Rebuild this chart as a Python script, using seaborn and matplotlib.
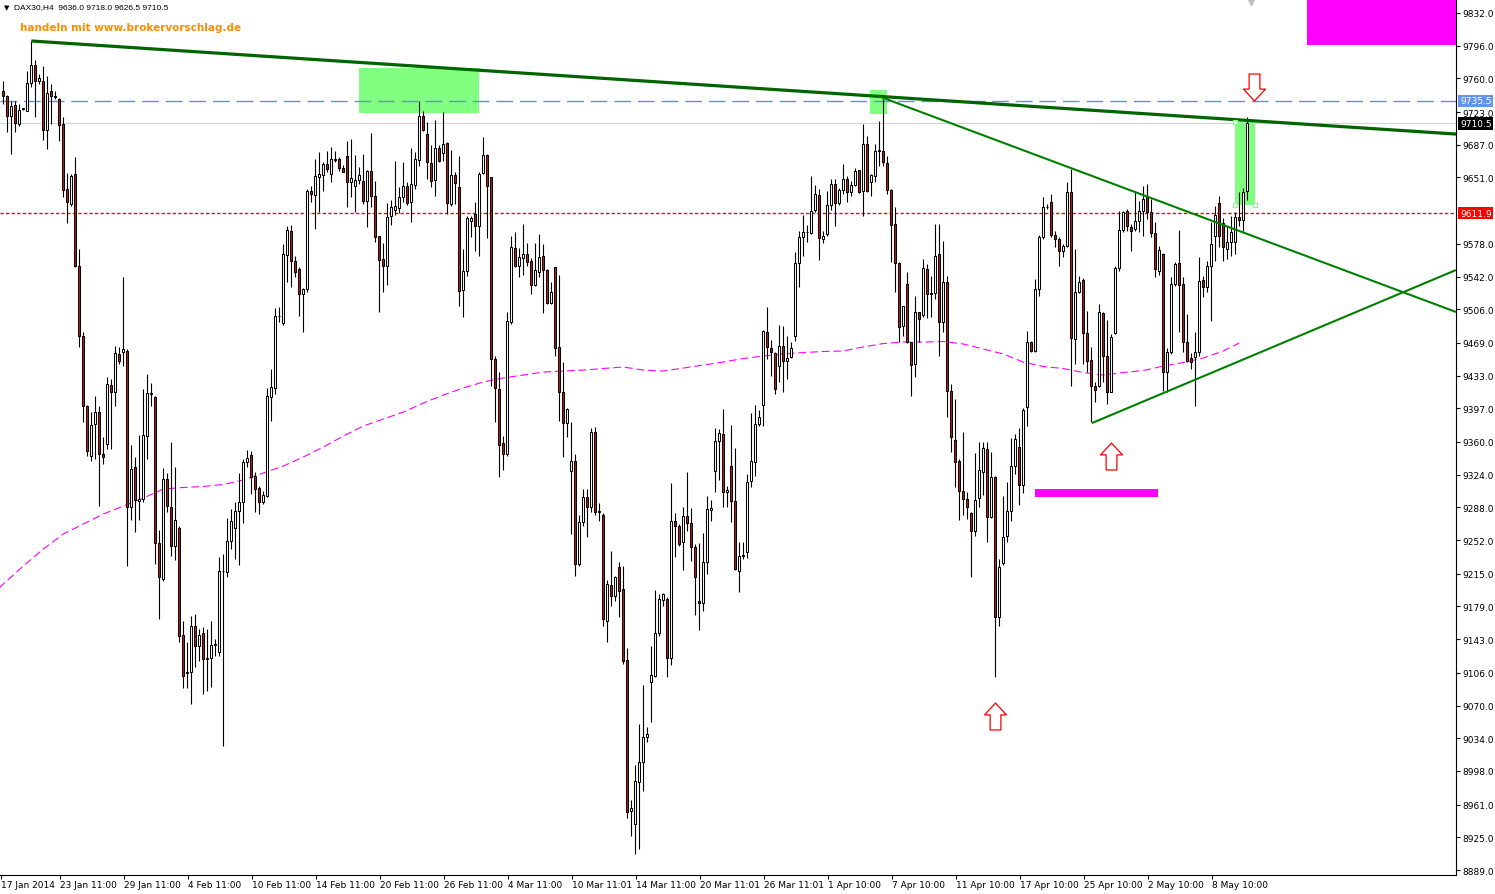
import numpy as np
import pandas as pd
import matplotlib.pyplot as plt
import seaborn as sns
from matplotlib.patches import Rectangle
from matplotlib.path import Path
import matplotlib.transforms as mtransforms

# DAX30 H4 Kerzen, Index = Kerze
opens = [
    9746.5, 9740.3, 9718.3, 9730.8, 9709.9, 9726.0, 9724.5, 9755.0, 9774.8, 9756.8,
    9757.2, 9703.6, 9746.5, 9740.3, 9737.4, 9709.9, 9638.3, 9621.8, 9654.8, 9553.9,
    9476.9, 9399.9, 9344.2, 9379.7, 9392.6, 9346.7, 9357.7, 9422.6, 9414.6, 9456.8,
    9458.6, 9460.4, 9288.1, 9332.1, 9294.6, 9297.1, 9366.9, 9413.5, 9409.1, 9248.4,
    9209.2, 9319.2, 9288.1, 9245.8, 9265.0, 9147.6, 9106.0, 9106.5, 9157.1, 9135.8,
    9149.8, 9121.1, 9121.9, 9136.6, 9128.5, 9218.3, 9216.5, 9251.3, 9265.0, 9284.3,
    9294.2, 9337.6, 9345.6, 9322.2, 9309.0, 9293.6, 9300.2, 9409.1, 9419.0, 9498.2,
    9490.5, 9566.0, 9591.8, 9559.4, 9550.8, 9522.8, 9528.3, 9635.8, 9632.0, 9651.2,
    9654.1, 9665.8, 9654.8, 9671.3, 9671.3, 9661.5, 9674.3, 9645.7, 9641.3, 9648.6,
    9647.1, 9625.5, 9657.8, 9630.3, 9586.3, 9561.3, 9553.3, 9608.3, 9615.6, 9617.1,
    9629.2, 9641.3, 9624.4, 9642.7, 9670.6, 9718.3, 9698.5, 9666.6, 9648.6, 9683.1,
    9677.6, 9688.6, 9621.5, 9653.7, 9640.2, 9527.5, 9548.1, 9603.4, 9610.8, 9597.3,
    9655.9, 9676.1, 9651.2, 9451.3, 9418.2, 9358.5, 9346.7, 9491.6, 9573.1, 9553.9,
    9562.1, 9566.8, 9558.8, 9533.0, 9546.7, 9564.3, 9549.2, 9512.9, 9552.2, 9464.5,
    9414.6, 9380.5, 9328.3, 9339.4, 9225.7, 9272.2, 9299.7, 9288.1, 9370.6, 9282.6,
    9279.6, 9163.3, 9202.6, 9190.1, 9222.0, 9198.2, 9120.1, 8953.7, 8939.2, 8985.9,
    9008.1, 9035.0, 9095.5, 9102.8, 9149.8, 9186.4, 9187.2, 9121.9, 9272.7, 9267.8,
    9250.2, 9278.2, 9270.8, 9244.1, 9185.3, 9182.8, 9228.2, 9285.1, 9327.7, 9360.7,
    9368.7, 9304.6, 9333.2, 9295.3, 9218.3, 9234.8, 9239.2, 9317.3, 9338.3, 9379.7,
    9400.6, 9480.6, 9463.0, 9457.9, 9443.2, 9465.9, 9449.0, 9453.1, 9476.2, 9556.5,
    9585.2, 9591.0, 9589.9, 9615.6, 9631.7, 9583.3, 9588.5, 9620.7, 9643.5, 9622.6,
    9637.6, 9649.3, 9635.4, 9642.7, 9659.2, 9636.5, 9687.8, 9646.4, 9652.3, 9680.5,
    9680.5, 9666.9, 9637.2, 9599.8, 9556.9, 9487.2, 9533.8, 9469.6, 9445.7, 9502.6,
    9499.7, 9550.3, 9523.9, 9523.9, 9566.8, 9491.6, 9535.7, 9416.4, 9362.4, 9339.4,
    9306.3, 9297.2, 9281.8, 9262.3, 9298.0, 9327.2, 9352.2, 9277.1, 9321.1, 9167.0,
    9226.8, 9256.2, 9284.3, 9333.8, 9354.1, 9312.6, 9398.1, 9470.3, 9460.4, 9528.3,
    9585.2, 9618.2, 9623.7, 9587.7, 9583.3, 9570.4, 9575.3, 9635.4, 9473.3, 9525.3,
    9538.5, 9479.9, 9450.5, 9421.9, 9421.9, 9501.5, 9454.2, 9415.3, 9479.5, 9551.1,
    9593.2, 9613.8, 9596.2, 9594.3, 9603.4, 9614.5, 9630.3, 9613.4, 9589.9, 9548.4,
    9566.8, 9437.3, 9458.6, 9533.8, 9556.9, 9533.8, 9469.6, 9452.0, 9453.1, 9459.3,
    9538.5, 9530.2, 9553.3, 9587.0, 9622.9, 9600.9, 9572.3, 9580.3, 9580.3, 9607.2,
    9604.5, 9636.0]
highs = [
    9757.5, 9742.0, 9735.5, 9735.5, 9731.9, 9728.0, 9768.5, 9801.5, 9780.6, 9764.9,
    9773.3, 9762.3, 9753.9, 9746.0, 9738.0, 9717.2, 9655.9, 9654.8, 9673.2, 9572.3,
    9481.0, 9401.0, 9392.9, 9410.9, 9399.9, 9365.4, 9431.5, 9429.3, 9465.9, 9464.5,
    9541.5, 9462.3, 9356.6, 9343.1, 9367.6, 9418.2, 9434.8, 9424.8, 9411.0, 9263.4,
    9331.3, 9325.8, 9360.3, 9332.1, 9267.0, 9163.3, 9140.2, 9168.1, 9170.7, 9154.2,
    9156.0, 9154.2, 9163.3, 9143.0, 9233.0, 9236.7, 9275.9, 9286.2, 9294.2, 9325.8,
    9341.2, 9351.1, 9350.4, 9326.6, 9311.8, 9306.3, 9419.0, 9440.3, 9507.0, 9508.5,
    9577.8, 9597.9, 9598.7, 9564.9, 9552.0, 9529.0, 9638.3, 9642.0, 9671.3, 9678.7,
    9667.7, 9679.8, 9684.2, 9679.8, 9673.5, 9664.8, 9691.5, 9693.3, 9675.7, 9662.2,
    9676.8, 9659.0, 9700.0, 9647.5, 9587.0, 9578.9, 9622.9, 9626.6, 9669.5, 9640.2,
    9667.7, 9645.7, 9683.1, 9678.7, 9735.5, 9724.5, 9711.7, 9686.7, 9714.6, 9686.7,
    9722.7, 9689.7, 9681.6, 9656.7, 9674.3, 9572.3, 9609.0, 9609.0, 9624.4, 9656.7,
    9695.2, 9677.0, 9652.0, 9454.2, 9436.6, 9366.9, 9502.6, 9586.3, 9591.3, 9573.1,
    9599.8, 9578.9, 9562.1, 9578.9, 9588.8, 9577.8, 9550.3, 9535.7, 9553.0, 9543.7,
    9447.6, 9397.0, 9381.6, 9346.7, 9279.6, 9308.2, 9308.2, 9375.0, 9376.1, 9292.8,
    9281.5, 9208.4, 9240.3, 9212.8, 9227.5, 9223.8, 9132.9, 8966.3, 9004.5, 9049.6,
    9092.5, 9046.0, 9135.8, 9197.4, 9192.7, 9193.8, 9189.0, 9314.8, 9281.8, 9269.7,
    9288.0, 9326.6, 9287.0, 9247.7, 9248.8, 9259.8, 9300.8, 9296.4, 9375.0, 9374.2,
    9396.2, 9311.2, 9378.6, 9353.0, 9250.2, 9250.0, 9324.7, 9391.8, 9400.6, 9395.5,
    9483.5, 9508.1, 9472.5, 9459.3, 9488.7, 9487.2, 9476.2, 9470.3, 9568.7, 9592.4,
    9609.7, 9598.7, 9652.3, 9642.7, 9638.3, 9592.4, 9636.5, 9649.3, 9649.3, 9639.1,
    9665.8, 9653.0, 9647.5, 9661.1, 9659.6, 9709.9, 9696.3, 9654.8, 9687.8, 9713.5,
    9737.4, 9674.3, 9638.0, 9618.8, 9557.5, 9510.0, 9547.3, 9470.0, 9520.2, 9503.3,
    9561.3, 9555.8, 9542.9, 9599.8, 9599.8, 9581.4, 9542.9, 9423.7, 9407.2, 9341.2,
    9370.6, 9305.2, 9283.0, 9347.8, 9360.3, 9360.3, 9360.3, 9348.6, 9322.5, 9231.2,
    9300.2, 9315.6, 9364.0, 9368.7, 9375.0, 9396.9, 9482.4, 9471.4, 9539.3, 9587.7,
    9629.2, 9621.8, 9632.8, 9592.4, 9585.2, 9577.8, 9645.7, 9660.3, 9572.3, 9542.9,
    9540.0, 9504.4, 9464.1, 9425.6, 9511.8, 9503.3, 9494.5, 9478.8, 9553.9, 9614.5,
    9614.5, 9616.3, 9599.8, 9634.7, 9625.5, 9641.3, 9643.8, 9627.3, 9601.7, 9575.3,
    9568.0, 9463.0, 9541.2, 9558.3, 9593.5, 9541.2, 9500.8, 9457.9, 9481.3, 9563.2,
    9542.9, 9559.4, 9601.7, 9620.0, 9630.3, 9606.1, 9597.9, 9608.3, 9613.4, 9635.4,
    9639.1, 9718.0]
lows = [
    9731.9, 9701.4, 9676.8, 9701.0, 9708.0, 9725.0, 9724.0, 9750.2, 9717.9, 9753.9,
    9692.6, 9682.3, 9709.9, 9737.4, 9691.5, 9629.2, 9600.9, 9620.0, 9552.0, 9464.1,
    9381.9, 9344.9, 9339.4, 9341.2, 9289.5, 9335.7, 9352.2, 9352.2, 9399.2, 9445.8,
    9443.6, 9224.0, 9274.4, 9261.2, 9274.4, 9294.2, 9341.2, 9399.9, 9225.7, 9165.2,
    9207.3, 9282.9, 9234.8, 9230.4, 9140.2, 9089.2, 9089.2, 9071.6, 9112.0, 9119.3,
    9082.6, 9086.3, 9090.0, 9124.0, 9124.8, 9025.7, 9211.0, 9242.2, 9231.2, 9224.6,
    9270.8, 9332.1, 9302.7, 9283.2, 9280.7, 9291.7, 9299.0, 9383.4, 9412.7, 9491.6,
    9489.0, 9535.7, 9530.2, 9541.2, 9499.0, 9480.6, 9524.7, 9623.7, 9594.3, 9613.4,
    9636.5, 9657.4, 9645.7, 9668.4, 9658.0, 9656.7, 9618.2, 9629.2, 9613.4, 9643.8,
    9621.8, 9596.5, 9618.2, 9579.7, 9503.3, 9525.3, 9532.7, 9598.7, 9609.7, 9611.9,
    9624.4, 9620.7, 9602.3, 9638.3, 9663.3, 9702.5, 9649.3, 9640.2, 9630.3, 9667.7,
    9669.5, 9610.8, 9620.0, 9621.8, 9509.2, 9497.1, 9542.9, 9585.2, 9570.1, 9564.3,
    9654.8, 9584.1, 9421.9, 9381.6, 9321.1, 9329.4, 9345.0, 9490.0, 9552.2, 9541.2,
    9543.7, 9553.9, 9522.8, 9531.2, 9541.2, 9501.9, 9511.8, 9512.0, 9454.9, 9383.4,
    9343.8, 9365.1, 9258.7, 9212.8, 9223.8, 9267.8, 9255.1, 9282.6, 9279.6, 9273.3,
    9157.7, 9140.2, 9180.0, 9185.3, 9167.0, 9115.6, 8945.8, 8926.0, 8906.6, 8912.1,
    8976.2, 9030.1, 9051.5, 9101.0, 9146.1, 9179.1, 9101.0, 9114.5, 9233.0, 9245.8,
    9219.4, 9262.3, 9229.3, 9169.6, 9153.4, 9174.3, 9214.7, 9273.3, 9305.2, 9318.4,
    9288.0, 9288.0, 9272.2, 9219.0, 9195.2, 9231.2, 9232.0, 9310.1, 9322.8, 9377.2,
    9377.2, 9451.3, 9432.2, 9412.7, 9425.6, 9414.6, 9429.2, 9452.0, 9471.4, 9530.2,
    9564.9, 9580.3, 9588.8, 9612.7, 9560.5, 9578.9, 9587.0, 9615.6, 9597.9, 9620.7,
    9632.8, 9624.4, 9630.3, 9641.3, 9633.9, 9609.0, 9635.4, 9631.0, 9645.7, 9663.3,
    9664.0, 9632.8, 9558.3, 9524.6, 9469.6, 9476.9, 9468.8, 9410.2, 9431.1, 9469.6,
    9497.1, 9496.0, 9497.1, 9517.3, 9454.9, 9480.6, 9387.1, 9349.2, 9310.1, 9274.4,
    9279.6, 9275.2, 9211.0, 9256.8, 9288.1, 9301.6, 9250.2, 9276.0, 9101.0, 9157.7,
    9225.0, 9250.2, 9273.3, 9324.7, 9290.6, 9303.8, 9377.8, 9458.6, 9458.6, 9520.9,
    9583.3, 9616.3, 9585.2, 9574.2, 9553.9, 9563.2, 9574.0, 9421.9, 9445.7, 9523.9,
    9445.7, 9437.3, 9381.6, 9403.6, 9420.1, 9425.6, 9401.7, 9414.6, 9478.8, 9548.4,
    9591.4, 9592.4, 9570.4, 9592.4, 9590.7, 9587.0, 9605.3, 9585.2, 9541.2, 9543.7,
    9416.4, 9414.6, 9456.8, 9532.0, 9481.3, 9459.3, 9448.3, 9440.3, 9399.9, 9454.9,
    9519.1, 9524.7, 9492.7, 9559.4, 9574.2, 9559.4, 9561.3, 9564.3, 9566.8, 9597.9,
    9592.4, 9626.5]
closes = [
    9740.3, 9718.3, 9730.0, 9710.6, 9725.3, 9727.1, 9755.0, 9774.8, 9756.8, 9760.1,
    9703.6, 9744.0, 9740.3, 9740.0, 9708.8, 9637.6, 9623.7, 9653.0, 9553.9, 9476.9,
    9399.9, 9350.4, 9378.6, 9392.6, 9346.7, 9343.1, 9423.7, 9414.6, 9457.9, 9449.4,
    9462.3, 9288.1, 9330.2, 9296.4, 9297.1, 9367.6, 9413.5, 9413.0, 9248.4, 9211.0,
    9319.2, 9289.8, 9245.1, 9274.1, 9146.8, 9102.8, 9106.5, 9157.1, 9135.1, 9147.6,
    9121.1, 9121.9, 9136.6, 9137.6, 9218.3, 9217.5, 9251.3, 9272.7, 9284.3, 9294.2,
    9337.6, 9342.0, 9321.1, 9308.2, 9293.6, 9301.6, 9410.2, 9420.1, 9498.2, 9498.9,
    9566.8, 9593.2, 9559.4, 9546.7, 9522.8, 9528.3, 9635.8, 9632.8, 9652.3, 9654.8,
    9665.5, 9660.3, 9671.3, 9670.6, 9661.1, 9657.4, 9645.7, 9650.1, 9648.6, 9653.7,
    9625.5, 9658.1, 9630.3, 9585.2, 9560.5, 9553.3, 9607.2, 9618.2, 9619.3, 9629.2,
    9641.3, 9622.9, 9643.5, 9671.3, 9718.3, 9703.6, 9667.7, 9647.5, 9683.1, 9669.5,
    9687.8, 9622.6, 9653.7, 9644.6, 9526.4, 9548.1, 9606.1, 9606.1, 9597.3, 9654.8,
    9676.1, 9642.0, 9451.3, 9419.0, 9356.6, 9346.7, 9492.7, 9574.2, 9553.9, 9563.2,
    9566.8, 9557.7, 9533.0, 9549.2, 9563.2, 9549.2, 9512.9, 9524.7, 9463.7, 9414.6,
    9380.5, 9396.2, 9339.4, 9225.7, 9272.2, 9299.7, 9288.1, 9370.6, 9282.6, 9284.3,
    9165.2, 9203.7, 9190.8, 9211.0, 9196.3, 9119.3, 8953.1, 8956.8, 8986.6, 9008.1,
    9035.0, 9038.3, 9103.5, 9149.8, 9187.2, 9192.7, 9121.9, 9272.7, 9267.8, 9247.7,
    9278.2, 9270.8, 9244.1, 9211.0, 9182.8, 9228.2, 9286.2, 9287.0, 9360.7, 9369.8,
    9304.6, 9307.4, 9295.3, 9220.6, 9234.8, 9235.6, 9316.2, 9339.4, 9379.7, 9387.1,
    9481.7, 9464.1, 9458.6, 9418.2, 9465.9, 9449.0, 9452.7, 9463.7, 9556.5, 9585.2,
    9590.7, 9591.4, 9613.8, 9632.8, 9584.1, 9586.3, 9620.7, 9643.5, 9622.6, 9637.2,
    9649.3, 9634.7, 9642.7, 9657.8, 9635.4, 9687.8, 9636.5, 9653.7, 9680.5, 9680.8,
    9667.7, 9637.6, 9599.0, 9556.5, 9486.1, 9509.2, 9469.6, 9444.6, 9502.6, 9495.3,
    9551.1, 9522.8, 9522.8, 9564.3, 9491.6, 9536.3, 9416.4, 9365.1, 9337.6, 9306.3,
    9297.2, 9288.1, 9262.3, 9296.1, 9329.1, 9353.0, 9277.1, 9321.1, 9167.0, 9222.0,
    9255.1, 9283.7, 9333.2, 9363.2, 9312.6, 9395.1, 9469.6, 9460.4, 9528.3, 9585.2,
    9618.2, 9618.9, 9587.7, 9583.3, 9570.4, 9575.9, 9635.4, 9474.0, 9524.7, 9536.3,
    9479.9, 9449.4, 9421.9, 9417.5, 9502.6, 9454.9, 9415.3, 9475.1, 9551.1, 9593.2,
    9612.7, 9597.3, 9592.4, 9603.4, 9614.5, 9627.3, 9613.4, 9589.9, 9550.3, 9571.5,
    9437.3, 9458.6, 9533.8, 9555.8, 9532.7, 9469.6, 9449.4, 9447.6, 9459.3, 9537.4,
    9530.2, 9553.3, 9577.8, 9609.7, 9587.0, 9574.2, 9580.3, 9590.7, 9607.2, 9604.5,
    9635.4, 9710.5]

# gleitender Durchschnitt (magenta, gestrichelt)
ma_bars = [-1, 0] + list(range(5, 306, 5)) + [309]
ma_vals = [
    9199.3, 9203.7, 9223.5, 9242.2, 9258.7, 9269.7, 9280.7, 9289.5, 9298.3, 9308.2,
    9309.9, 9311.0, 9313.2, 9318.1, 9325.8, 9333.5, 9343.4, 9354.4, 9366.5, 9377.5,
    9385.2, 9392.9, 9402.8, 9411.6, 9419.4, 9426.0, 9430.4, 9433.6, 9436.9, 9438.0,
    9439.1, 9440.8, 9442.5, 9439.1, 9438.0, 9441.3, 9444.6, 9447.9, 9451.8, 9454.6,
    9456.8, 9458.4, 9459.5, 9460.1, 9464.5, 9468.3, 9470.0, 9470.0, 9470.5, 9467.8,
    9462.3, 9456.8, 9447.9, 9443.0, 9440.8, 9436.4, 9433.6, 9436.4, 9438.6, 9443.5,
    9447.4, 9452.4, 9460.1, 9468.9]

price_ticks = [9832.0, 9796.0, 9760.0, 9723.0, 9687.0, 9651.0, 9578.0, 9542.0, 9506.0,
               9469.0, 9433.0, 9397.0, 9360.0, 9324.0, 9288.0, 9252.0, 9215.0, 9179.0,
               9143.0, 9106.0, 9070.0, 9034.0, 8998.0, 8961.0, 8925.0, 8889.0]
time_labels = ['17 Jan 2014', '23 Jan 11:00', '29 Jan 11:00', '4 Feb 11:00', '10 Feb 11:00',
               '14 Feb 11:00', '20 Feb 11:00', '26 Feb 11:00', '4 Mar 11:00', '10 Mar 11:01',
               '14 Mar 11:00', '20 Mar 11:01', '26 Mar 11:01', '1 Apr 10:00', '7 Apr 10:00',
               '11 Apr 10:00', '17 Apr 10:00', '25 Apr 10:00', '2 May 10:00', '8 May 10:00']
time_ticks = [-0.6] + [14.2 + 16 * k for k in range(19)]

# Linien / Markierungen
level_blue, level_bid, level_red = 9735.5, 9710.5, 9611.9
trend_main = ([7.0, 363.2], [9801.2, 9698.8])
trend_down = ([218.7, 363.2], [9740.7, 9503.0])
trend_up = ([272.2, 363.2], [9380.8, 9549.2])
green_boxes = [(88.9, 118.9, 9721.9, 9771.5), (216.7, 220.9, 9720.9, 9747.3),
               (307.9, 312.9, 9620.7, 9712.1)]
magenta_boxes = [(325.9, 363.5, 9796.8, 9850.0), (257.9, 288.7, 9299.4, 9308.2)]
up_arrow_x, up_arrow_y = [247.9, 276.9], [9059.0, 9344.0]
down_arrow_x, down_arrow_y = [312.7], [9750.2]

df = pd.DataFrame({'open': opens, 'high': highs, 'low': lows, 'close': closes})
df['bar'] = np.arange(len(df))
ma = pd.DataFrame({'bar': ma_bars, 'ma': ma_vals})

sns.set_theme(style='white')
plt.rcParams['font.family'] = ['DejaVu Sans']

fig = plt.figure(figsize=(14.95, 8.95), dpi=100)
ax = fig.add_axes([0, 19 / 895, 1456 / 1495, 876 / 895])
ax.set_facecolor('white')

for x0, x1, y0, y1 in green_boxes:
    ax.add_patch(Rectangle((x0, y0), x1 - x0, y1 - y0, fc='#80ff80', ec='none', zorder=1))

ax.axhline(level_bid, color='#d3d3d3', lw=0.8, zorder=1.5)
ax.axhline(level_blue, color='#5b8ef0', lw=1.0, ls=(0, (12, 5)), zorder=2.5)
ax.axhline(level_red, color='#ff0000', lw=1.0, ls=(0, (2.4, 1.6)), zorder=2.5)

sns.lineplot(data=ma, x='bar', y='ma', color='#ff00ff', lw=0.8,
             linestyle=(0, (7, 3.5)), ax=ax, zorder=2, sort=True)

# Kerzen
up = df['close'] >= df['open']
body_low = np.minimum(df['open'], df['close'])
body_h = np.maximum((df['close'] - df['open']).abs(), 0.5)
ax.vlines(df['bar'], df['low'], df['high'], color='black', lw=0.8, zorder=3)
ax.bar(df['bar'], body_h, bottom=body_low, width=0.6,
       color=np.where(up, 'white', '#d01010'), edgecolor='black', linewidth=0.75, zorder=4)

ax.plot(*trend_main, color='#006400', lw=2.3, zorder=5, solid_capstyle='butt')
ax.plot(*trend_down, color='#008000', lw=1.5, zorder=5, solid_capstyle='butt')
ax.plot(*trend_up, color='#008000', lw=1.5, zorder=5, solid_capstyle='butt')

for x0, x1, y0, y1 in magenta_boxes:
    ax.add_patch(Rectangle((x0, y0), x1 - x0, y1 - y0, fc='#ff00ff', ec='none', zorder=6))

# Griffe am ausgewaehlten Rechteck
gb = green_boxes[2]
ax.plot([gb[0], gb[0], gb[1]], [gb[3], gb[2], gb[2]], ls='none', marker='s', ms=3.2,
        mfc='white', mec='#80ff80', mew=0.8, zorder=6)

# Pfeile
up_path = Path([(0, 0.5), (0.407, 0.06), (0.2, 0.06), (0.2, -0.5), (-0.2, -0.5),
                (-0.2, 0.06), (-0.407, 0.06), (0, 0.5)], closed=True)
down_path = Path([(x, -y) for x, y in up_path.vertices], closed=True)
ax.plot(up_arrow_x, up_arrow_y, ls='none', marker=up_path, ms=19.4,
        mfc='white', mec='#ff0000', mew=0.9, zorder=7)
ax.plot(down_arrow_x, down_arrow_y, ls='none', marker=down_path, ms=19.4,
        mfc='white', mec='#ff0000', mew=0.9, zorder=7)

# Achsen
ax.set_xlim(-0.825, 363.2)
ax.set_ylim(8883.5, 9847.4)
for s in ['left', 'top']:
    ax.spines[s].set_visible(False)
for s in ['right', 'bottom']:
    ax.spines[s].set_color('black')
    ax.spines[s].set_linewidth(0.8)

ax.yaxis.tick_right()
ax.set_yticks(price_ticks)
ax.set_yticklabels([f'{v:.1f}' for v in price_ticks])
ax.set_xticks(time_ticks)
ax.set_xticklabels(time_labels, ha='left')
ax.tick_params(axis='y', right=True, length=3, width=0.8, color='black', pad=1.5,
               labelsize=6.5, labelcolor='black')
ax.tick_params(axis='x', bottom=True, length=3, width=0.8, color='black', pad=0.5,
               labelsize=6.5, labelcolor='black')
ax.set_xlabel('')
ax.set_ylabel('')
ax.grid(False)

trans = mtransforms.blended_transform_factory(ax.transAxes, ax.transData)
for val, bg in [(level_blue, '#6495ed'), (level_bid, 'black'), (level_red, '#ff0000')]:
    ax.text(1.0 + 4 / 1456, val, f'{val:.1f}', transform=trans, ha='left', va='center',
            fontsize=6.5, color='white', zorder=10, clip_on=False,
            bbox=dict(boxstyle='square,pad=0.18', fc=bg, ec='none'))

# Schiebe-Markierung oben
tshift = mtransforms.blended_transform_factory(ax.transData, ax.transAxes)
ax.plot([311.9], [0.997], transform=tshift, marker='v', ms=5, color='#c0c0c0',
        ls='none', clip_on=False, zorder=8)

# Kopfzeile
fig.text(4 / 1495, 1 - 8 / 895, '\u25bc', fontsize=5, color='black', va='center')
fig.text(14 / 1495, 1 - 8 / 895, 'DAX30,H4  9636.0 9718.0 9626.5 9710.5',
         fontsize=6, color='black', va='center', family=['Liberation Sans', 'DejaVu Sans'])
fig.text(20 / 1495, 1 - 28 / 895, 'handeln mit www.brokervorschlag.de',
         fontsize=7.5, fontweight='bold', color='#ff8c00', va='center')

fig.savefig('out.png', dpi=100)
